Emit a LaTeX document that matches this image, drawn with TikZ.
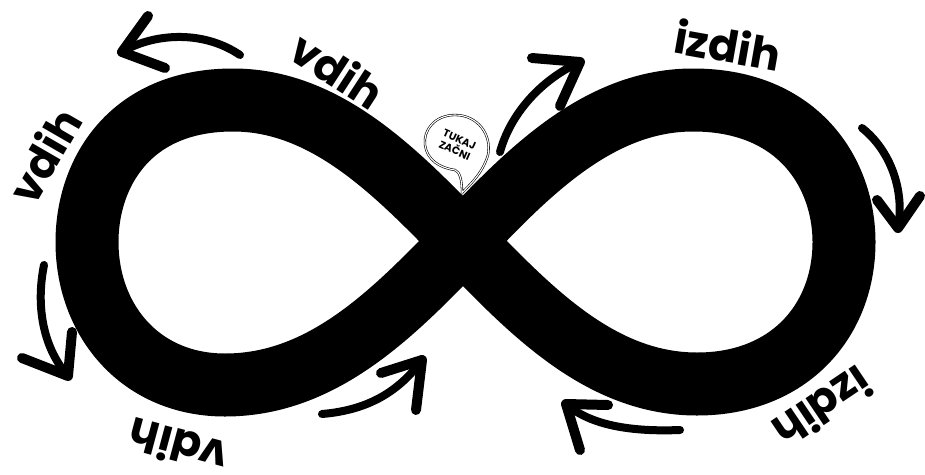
\documentclass[tikz,border=0pt]{standalone}
\usepackage{fontspec}
\newfontfamily\hand{Poppins}
\begin{document}
\begin{tikzpicture}[x=1pt,y=-1pt,
  band/.style={line width=63pt,line join=round,draw=black},
  brush/.style={line width=8pt,line cap=round,draw=black},
  barb/.style={line width=10pt,line cap=round,line join=round,draw=black},
  lbl/.style={font=\hand\bfseries\fontsize{44}{44}\selectfont,inner sep=0pt},
  bubble/.style={draw=black,double=white,double distance=1.1pt,line width=0.6pt,fill=white},
  btext/.style={font=\hand\bfseries\fontsize{10.5}{12}\selectfont,align=center,inner sep=0pt}]
\useasboundingbox[fill=white] (0,0) rectangle (925,474);
% infinity band
\coordinate (c) at (463,241);
\draw[band] (c) .. controls (530,170) and (600,100) .. (693,100)
  .. controls (800,100) and (844,175) .. (844,242)
  .. controls (844,320) and (790,384) .. (697,384)
  .. controls (600,384) and (530,310) .. (c)
  .. controls (396,172) and (326,100) .. (233,100)
  .. controls (128,100) and (87,175) .. (87,242)
  .. controls (87,320) and (140,385) .. (225,385)
  .. controls (325,385) and (396,310) .. (c) -- cycle;
% labels
\node[lbl,rotate=-33] (l1) at (338,70) {vdih};
\node[lbl,rotate=60] (l2) at (44,155) {vdih};
\node[lbl,rotate=-10] (l3) at (728,45) {izdih};
\node[lbl,rotate=165] (l4) at (178,447) {vdih};
\node[lbl,rotate=214] (l5) at (823,408) {izdih};
% arrows
\coordinate (a1s) at (240,55); \coordinate (a1e) at (122,52);
\coordinate (a1b) at (148,16); \coordinate (a1c) at (165,68);
\draw[brush] (a1s) .. controls (200,28) and (150,35) .. (a1e);
\draw[barb] (a1b) -- (a1e) -- (a1c);
\coordinate (a2s) at (44,265); \coordinate (a2e) at (68,376);
\coordinate (a2b) at (22,358); \coordinate (a2c) at (72,332);
\draw[brush] (a2s) .. controls (35,310) and (45,350) .. (a2e);
\draw[barb] (a2b) -- (a2e) -- (a2c);
\coordinate (a3s) at (322,414); \coordinate (a3e) at (422,360);
\coordinate (a3b) at (381,373); \coordinate (a3c) at (416,410);
\draw[brush] (a3s) .. controls (370,410) and (400,390) .. (a3e);
\draw[barb] (a3b) -- (a3e) -- (a3c);
\coordinate (a4s) at (680,430); \coordinate (a4e) at (566,404);
\coordinate (a4b) at (608,405); \coordinate (a4c) at (580,450);
\draw[brush] (a4s) .. controls (630,432) and (590,425) .. (a4e);
\draw[barb] (a4b) -- (a4e) -- (a4c);
\coordinate (a5s) at (862,128); \coordinate (a5e) at (898,228);
\coordinate (a5b) at (877,200); \coordinate (a5c) at (920,196);
\draw[brush] (a5s) .. controls (890,150) and (905,190) .. (a5e);
\draw[barb] (a5b) -- (a5e) -- (a5c);
\coordinate (a6s) at (500,152); \coordinate (a6e) at (580,62);
\coordinate (a6b) at (532,58); \coordinate (a6c) at (560,106);
\draw[brush] (a6s) .. controls (510,115) and (540,80) .. (a6e);
\draw[barb] (a6b) -- (a6e) -- (a6c);
% speech bubble
\coordinate (tip) at (462,193);
\draw[bubble] (tip) .. controls (468,186) and (482,175) .. (488,155)
  .. controls (492,135) and (478,115) .. (455,115)
  .. controls (435,115) and (423,130) .. (425,145)
  .. controls (427,160) and (440,168) .. (455,170)
  .. controls (460,172) and (462,180) .. (tip) -- cycle;
\node[btext,rotate=-24] (start) at (457,145) {TUKAJ\\ZAČNI};
\end{tikzpicture}
\end{document}
